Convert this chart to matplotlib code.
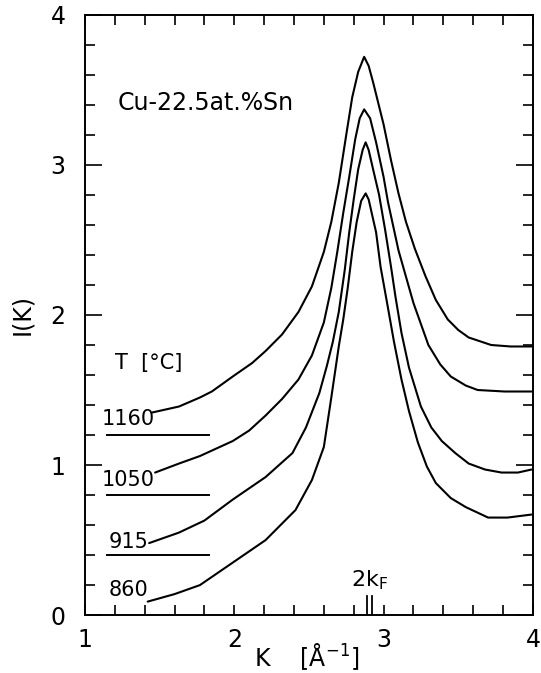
import matplotlib
matplotlib.use("Agg")
import matplotlib.pyplot as plt
from matplotlib.ticker import MultipleLocator

plt.rcParams['font.family'] = ['DejaVu Sans']

# ---- data ----
temps = ["1160", "1050", "915", "860"]
baselines = [1.2, 0.8, 0.4, 0.0]

k_1160 = [1.45, 1.63, 1.77, 1.85, 1.99, 2.12, 2.21, 2.32, 2.43, 2.52, 2.60, 2.65, 2.70,
          2.75, 2.79, 2.83, 2.87, 2.90, 2.93, 3.00, 3.05, 3.10, 3.15, 3.21, 3.28, 3.35,
          3.43, 3.50, 3.57, 3.72, 3.85, 3.99]
i_1160 = [1.35, 1.39, 1.45, 1.49, 1.59, 1.68, 1.76, 1.87, 2.02, 2.19, 2.42, 2.62, 2.88,
          3.20, 3.45, 3.62, 3.72, 3.66, 3.55, 3.27, 3.03, 2.81, 2.62, 2.44, 2.26, 2.10,
          1.97, 1.90, 1.85, 1.80, 1.79, 1.79]

k_1050 = [1.47, 1.63, 1.77, 1.88, 1.99, 2.10, 2.21, 2.32, 2.43, 2.52, 2.60, 2.65, 2.69,
          2.73, 2.77, 2.81, 2.84, 2.87, 2.91, 2.95, 3.00, 3.03, 3.10, 3.20, 3.30, 3.38,
          3.45, 3.55, 3.63, 3.81, 3.99]
i_1050 = [0.95, 1.01, 1.06, 1.11, 1.16, 1.23, 1.33, 1.44, 1.57, 1.73, 1.95, 2.18, 2.42,
          2.68, 2.92, 3.17, 3.31, 3.37, 3.31, 3.15, 2.92, 2.75, 2.43, 2.08, 1.80, 1.67,
          1.59, 1.53, 1.50, 1.49, 1.49]

k_915 = [1.43, 1.63, 1.80, 1.99, 2.21, 2.39, 2.48, 2.57, 2.62, 2.66, 2.70, 2.74, 2.77,
         2.80, 2.83, 2.86, 2.88, 2.90, 2.93, 2.97, 3.01, 3.05, 3.08, 3.12, 3.17, 3.25,
         3.32, 3.39, 3.48, 3.57, 3.68, 3.79, 3.90, 3.99]
i_915 = [0.48, 0.55, 0.63, 0.77, 0.92, 1.08, 1.25, 1.48, 1.66, 1.82, 2.02, 2.30, 2.55,
         2.77, 2.97, 3.10, 3.15, 3.10, 2.97, 2.80, 2.57, 2.32, 2.12, 1.88, 1.65, 1.39,
         1.25, 1.16, 1.08, 1.01, 0.97, 0.95, 0.95, 0.97]

k_860 = [1.42, 1.60, 1.77, 1.99, 2.21, 2.41, 2.52, 2.60, 2.65, 2.70, 2.73, 2.76, 2.79,
         2.82, 2.85, 2.88, 2.90, 2.95, 2.98, 3.02, 3.07, 3.12, 3.17, 3.23, 3.29, 3.35,
         3.45, 3.55, 3.70, 3.83, 3.99]
i_860 = [0.09, 0.14, 0.20, 0.35, 0.50, 0.70, 0.90, 1.12, 1.45, 1.79, 1.97, 2.18, 2.42,
         2.62, 2.76, 2.81, 2.77, 2.55, 2.32, 2.10, 1.82, 1.57, 1.36, 1.15, 0.99, 0.88,
         0.78, 0.72, 0.65, 0.65, 0.67]

two_kf = [2.89, 2.92]

curves = [(k_1160, i_1160), (k_1050, i_1050), (k_915, i_915), (k_860, i_860)]

# ---- figure ----
fig = plt.figure(figsize=(5.41, 6.73), dpi=100)
ax = fig.add_axes([0.157, 0.086, 0.828, 0.892])

for k, i in curves:
    ax.plot(k, i, color='black', lw=1.5, solid_joinstyle='round', solid_capstyle='round')

# baseline marks for offset curves
for b in baselines[:3]:
    ax.plot([1.15, 1.83], [b, b], color='black', lw=1.4)

# temperature labels
label_y = [1.31, 0.90, 0.49, 0.17]
for t, y in zip(temps, label_y):
    ax.text(1.29, y, t, ha='center', va='center', fontsize=15)
ax.text(1.20, 1.68, "T  [°C]", ha='left', va='center', fontsize=15)
ax.text(1.22, 3.41, "Cu-22.5at.%Sn", ha='left', va='center', fontsize=17)

# 2kF marks
for x in two_kf:
    ax.plot([x, x], [0, 0.13], color='black', lw=1.3)
ax.text(2.78, 0.19, r"2k$_\mathregular{F}$", ha='left', va='baseline', fontsize=16)

ax.set_xlim(1, 4)
ax.set_ylim(0, 4)

ax.xaxis.set_minor_locator(MultipleLocator(0.2))
ax.yaxis.set_minor_locator(MultipleLocator(0.2))
ax.set_xticks([1, 2, 3, 4])
ax.set_xticklabels(['1', '2', '3', '4'])
ax.set_yticks([0, 1, 2, 3, 4])
ax.set_yticklabels(['0', '1', '2', '3', '4'])

ax.tick_params(axis='x', which='both', direction='in', top=True, bottom=True,
               length=7, width=1.2, labelsize=17, pad=9)
ax.tick_params(axis='y', which='major', direction='in', left=True, right=True,
               length=12, width=1.2, labelsize=17, pad=14)
ax.tick_params(axis='y', which='minor', direction='in', left=True, right=True,
               length=7, width=1.2)

for s in ax.spines.values():
    s.set_linewidth(1.4)

fig.text(307 / 541, 1 - 657 / 673, r"K    [Å$^{\mathregular{-1}}$]",
         ha='center', va='center', fontsize=17)
ax.set_ylabel("I(K)", fontsize=17, labelpad=12)

fig.savefig("out.png", dpi=100)
